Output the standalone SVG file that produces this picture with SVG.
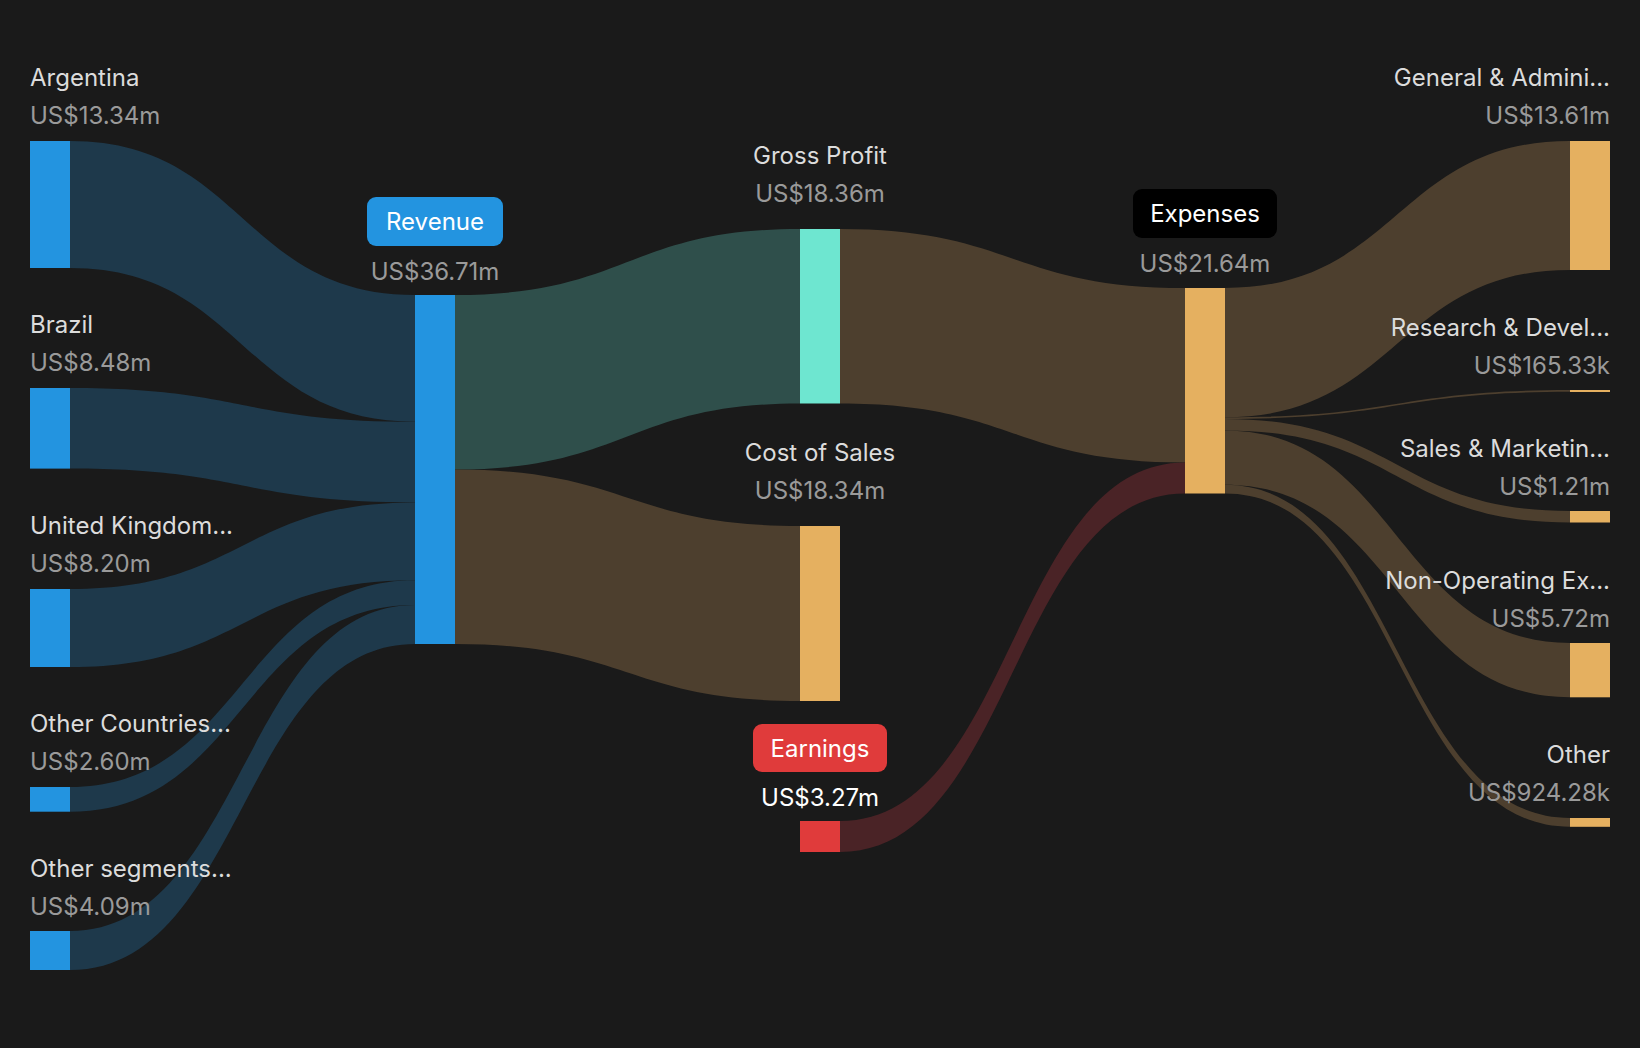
<svg xmlns="http://www.w3.org/2000/svg" width="1640" height="1048" viewBox="0 0 1640 1048">
<style>
text{font-family:Inter,"Noto Sans","Liberation Sans",sans-serif;font-size:24px}
.n{fill:#dcdcdc}.v{fill:#9a9a9a}.w{fill:#ffffff}
.e{text-anchor:end}.m{text-anchor:middle}
.fb{fill:#1e394b}.fg{fill:#2f4f4b}.fo{fill:#4d3f2e}.fr{fill:#4a2326}
.blue{fill:#2394e0}.or{fill:#e5b060}
</style>
<rect width="1640" height="1048" fill="#1a1a1a"/>
<g id="connectors">
<path class="fb" d="M70 141C242.5 141 242.5 295 415 295L415 421.8C242.5 421.8 242.5 268 70 268Z"/>
<path class="fb" d="M70 388C242.5 388 242.5 421.8 415 421.8L415 502.4C242.5 502.4 242.5 468.6 70 468.6Z"/>
<path class="fb" d="M70 589C242.5 589 242.5 502.4 415 502.4L415 580.3C242.5 580.3 242.5 667 70 667Z"/>
<path class="fb" d="M70 787C242.5 787 242.5 580.3 415 580.3L415 605C242.5 605 242.5 811.7 70 811.7Z"/>
<path class="fb" d="M70 931C242.5 931 242.5 605 415 605L415 644C242.5 644 242.5 970 70 970Z"/>
<path class="fg" d="M455 295C627.5 295 627.5 229 800 229L800 403.5C627.5 403.5 627.5 469.5 455 469.5Z"/>
<path class="fo" d="M455 469.5C627.5 469.5 627.5 526 800 526L800 701C627.5 701 627.5 644 455 644Z"/>
<path class="fo" d="M840 229C1012.5 229 1012.5 288 1185 288L1185 462.4C1012.5 462.4 1012.5 403.5 840 403.5Z"/>
<path class="fr" d="M840 821C1012.5 821 1012.5 462.4 1185 462.4L1185 493.5C1012.5 493.5 1012.5 852 840 852Z"/>
<path class="fo" d="M1225 288C1397.5 288 1397.5 141 1570 141L1570 270C1397.5 270 1397.5 417.3 1225 417.3Z"/>
<path class="fo" d="M1225 417.3C1397.5 417.3 1397.5 390 1570 390L1570 391.8C1397.5 391.8 1397.5 418.9 1225 418.9Z"/>
<path class="fo" d="M1225 418.9C1397.5 418.9 1397.5 511 1570 511L1570 522.5C1397.5 522.5 1397.5 430.4 1225 430.4Z"/>
<path class="fo" d="M1225 430.4C1397.5 430.4 1397.5 643 1570 643L1570 697.3C1397.5 697.3 1397.5 484.7 1225 484.7Z"/>
<path class="fo" d="M1225 484.7C1397.5 484.7 1397.5 818 1570 818L1570 826.8C1397.5 826.8 1397.5 493.5 1225 493.5Z"/>
</g>
<g id="argentina"><rect class="blue" x="30" y="141" width="40" height="127"/><text class="n" x="30" y="86">Argentina</text><text class="v" x="30" y="124">US$13.34m</text></g>
<g id="brazil"><rect class="blue" x="30" y="388" width="40" height="80.6"/><text class="n" x="30" y="333">Brazil</text><text class="v" x="30" y="371">US$8.48m</text></g>
<g id="uk"><rect class="blue" x="30" y="589" width="40" height="78"/><text class="n" x="30" y="534">United Kingdom...</text><text class="v" x="30" y="572">US$8.20m</text></g>
<g id="other-countries"><rect class="blue" x="30" y="787" width="40" height="24.7"/><text class="n" x="30" y="732">Other Countries...</text><text class="v" x="30" y="770">US$2.60m</text></g>
<g id="other-segments"><rect class="blue" x="30" y="931" width="40" height="39"/><text class="n" x="30" y="877">Other segments...</text><text class="v" x="30" y="915">US$4.09m</text></g>
<g id="revenue"><rect class="blue" x="415" y="295" width="40" height="349"/><rect class="blue" x="367" y="197" width="136" height="49" rx="9"/><text class="w m" x="435" y="230">Revenue</text><text class="v m" x="435" y="280">US$36.71m</text></g>
<g id="gross-profit"><rect fill="#6ee6d0" x="800" y="229" width="40" height="174.5"/><text class="n m" x="820" y="164">Gross Profit</text><text class="v m" x="820" y="202">US$18.36m</text></g>
<g id="cost-of-sales"><rect class="or" x="800" y="526" width="40" height="175"/><text class="n m" x="820" y="461">Cost of Sales</text><text class="v m" x="820" y="499">US$18.34m</text></g>
<g id="earnings"><rect fill="#e03b3b" x="800" y="821" width="40" height="31"/><rect fill="#e03b3b" x="753" y="724" width="134" height="48" rx="9"/><text class="w m" x="820" y="757">Earnings</text><text class="w m" x="820" y="806">US$3.27m</text></g>
<g id="expenses"><rect class="or" x="1185" y="288" width="40" height="205.5"/><rect fill="#000" x="1133" y="189" width="144" height="49" rx="9"/><text class="w m" x="1205" y="222">Expenses</text><text class="v m" x="1205" y="272">US$21.64m</text></g>
<g id="ga"><rect class="or" x="1570" y="141" width="40" height="129"/><text class="n e" x="1610" y="86">General &amp; Admini...</text><text class="v e" x="1610" y="124">US$13.61m</text></g>
<g id="rd"><rect class="or" x="1570" y="390" width="40" height="2"/><text class="n e" x="1610" y="336">Research &amp; Devel...</text><text class="v e" x="1610" y="374">US$165.33k</text></g>
<g id="sm"><rect class="or" x="1570" y="511" width="40" height="11.5"/><text class="n e" x="1610" y="457">Sales &amp; Marketin...</text><text class="v e" x="1610" y="495">US$1.21m</text></g>
<g id="nonop"><rect class="or" x="1570" y="643" width="40" height="54.3"/><text class="n e" x="1610" y="589">Non-Operating Ex...</text><text class="v e" x="1610" y="627">US$5.72m</text></g>
<g id="other"><rect class="or" x="1570" y="818" width="40" height="8.8"/><text class="n e" x="1610" y="763">Other</text><text class="v e" x="1610" y="801">US$924.28k</text></g>
</svg>
